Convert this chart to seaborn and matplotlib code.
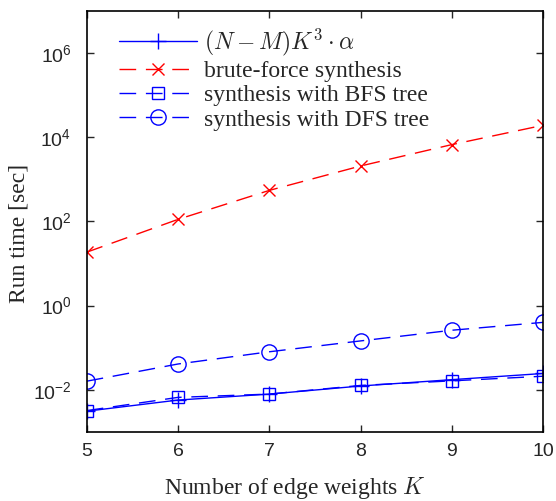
import numpy as np
import pandas as pd
import seaborn as sns
import matplotlib
matplotlib.use("Agg")
import matplotlib.pyplot as plt

K = [5, 6, 7, 8, 9, 10]
theory = [0.0031, 0.0057, 0.0079, 0.0123, 0.0174, 0.0244]
brute_force = [18.6, 112, 547, 2080, 6700, 19300]
bfs_tree = [0.0032, 0.0066, 0.0079, 0.0127, 0.0163, 0.021]
dfs_tree = [0.016, 0.041, 0.080, 0.145, 0.26, 0.40]

labels = [r"$(N-M)K^3\cdot\alpha$", "brute-force synthesis",
          "synthesis with BFS tree", "synthesis with DFS tree"]

sns.set_style("ticks")
plt.rcParams["font.family"] = ["Liberation Sans", "DejaVu Sans"]
plt.rcParams["mathtext.fontset"] = "cm"

fig = plt.figure(figsize=(5.56, 5.01), dpi=100)
ax = fig.add_axes([0.156, 0.138, 0.821, 0.840])

serif = {"family": "Liberation Serif", "size": 17}

styles = [
    (theory, "blue", "+", "-", 11),
    (brute_force, "red", "x", "--", 8),
    (bfs_tree, "blue", "s", "--", 9),
    (dfs_tree, "blue", "o", "--", 11),
]
for (vals, col, mk, ls, ms), lab in zip(styles, labels):
    df = pd.DataFrame({"K": K, "t": vals})
    sns.lineplot(data=df, x="K", y="t", ax=ax, color=col, marker=mk,
                 linestyle=ls, markersize=ms, markerfacecolor="none",
                 markeredgecolor=col, markeredgewidth=1.0, linewidth=1.0,
                 label=lab)
for line in ax.get_lines()[1:]:
    line.set_dashes((12, 7))

ax.set_yscale("log")
ax.set_xlim(5, 10)
ax.set_ylim(1e-3, 1e7)
ax.set_yticks([1e-2, 1e0, 1e2, 1e4, 1e6])
ax.set_xticks(K)
ax.minorticks_off()
ax.tick_params(direction="in", top=True, right=True, length=5, width=1,
               labelsize=14)
ax.tick_params(axis="y", pad=11)
ax.tick_params(axis="x", pad=8)
for s in ax.spines.values():
    s.set_linewidth(1.2)
    s.set_color("black")

ax.set_xlabel(r"Number of edge weights $K$", fontdict=serif, labelpad=11)
ax.xaxis.label.set_x(0.456)
ax.set_ylabel("Run time [sec]", fontdict=serif, labelpad=2)
ax.yaxis.label.set_y(0.472)

leg = ax.legend(loc="upper left", frameon=False, handlelength=3.3,
                prop={"family": "Liberation Serif", "size": 17},
                labelspacing=0.12, handletextpad=0.3,
                bbox_to_anchor=(0.04, 0.997), borderaxespad=0.2)

fig.savefig("out.png", dpi=100)
